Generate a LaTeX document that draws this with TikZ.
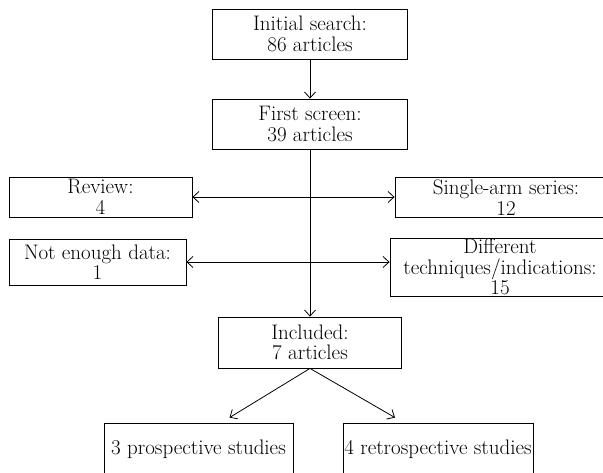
\documentclass[tikz,border=0pt]{standalone}
\usepackage{tikz}
\usetikzlibrary{positioning, arrows.meta}

\tikzset{
  stage/.style={draw, line width=0.8pt, inner sep=0pt, align=center,
    font=\fontsize{21}{20.5}\selectfont},
  flow/.style={line width=0.8pt, -{Straight Barb[length=6pt,width=11pt]}},
  twoway/.style={line width=0.8pt, {Straight Barb[length=6pt,width=11pt]}-{Straight Barb[length=6pt,width=11pt]}}
}

\begin{document}
\begin{tikzpicture}[x=1pt, y=-1pt]
\useasboundingbox (0,0) rectangle (603,473);

% main column
\node[stage, minimum width=195pt, minimum height=50pt] (search) at (310,34) {Initial search:\\86 articles};
\node[stage, minimum width=195pt, minimum height=50pt] (screen) at (310,124) {First screen:\\39 articles};
\node[stage, minimum width=183pt, minimum height=51pt] (incl) at (310,342.5) {Included:\\7 articles};

% excluded
\node[stage, minimum width=183pt, minimum height=40pt] (review) at (100.5,197) {Review:\\4};
\node[stage, minimum width=222pt, minimum height=40pt] (single) at (506,197.5) {Single-arm series:\\12};
\node[stage, minimum width=177pt, minimum height=46pt] (nodata) at (97.5,262) {Not enough data:\\1};
\node[stage, minimum width=220pt, minimum height=58pt] (diff) at (500,267) {Different\\techniques/indications:\\15};

% split
\node[stage, minimum width=189pt, minimum height=52pt] (prosp) at (198.5,449) {3 prospective studies};
\node[stage, minimum width=190pt, minimum height=52pt] (retro) at (438,449) {4 retrospective studies};

\draw[flow] (search) -- (screen);
\draw[flow] (screen) -- (incl);
\draw[twoway] (review.east) -- (review.east -| single.west);
\draw[twoway] (nodata.east) -- (nodata.east -| diff.west);
\draw[flow] (incl.south) -- ([xshift=31pt,yshift=5pt]prosp.north);
\draw[flow] (incl.south) -- ([xshift=-43pt,yshift=5pt]retro.north);
\end{tikzpicture}
\end{document}
